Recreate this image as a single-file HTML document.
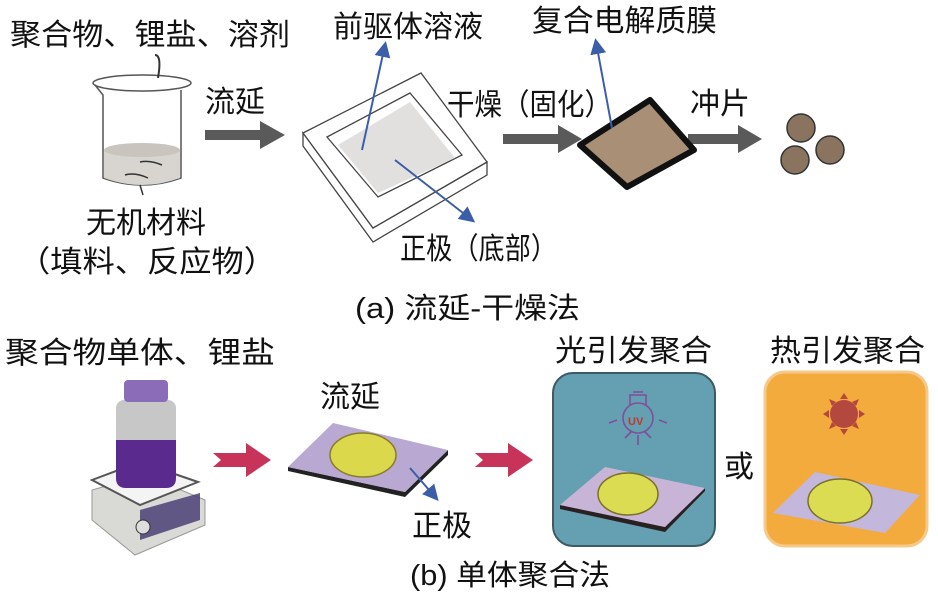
<!DOCTYPE html>
<html><head><meta charset="utf-8"><style>
html,body{margin:0;padding:0;background:#fff;}
svg text{font-family:"Liberation Sans","Noto Sans CJK SC",sans-serif;fill:#111;}
</style></head><body>
<svg width="938" height="593" viewBox="0 0 938 593" xmlns="http://www.w3.org/2000/svg">
<defs>
<marker id="ab" markerWidth="8" markerHeight="8" refX="6" refY="4" orient="auto"><path d="M0,0 L8,4 L0,8 z" fill="#3b5ea8"/></marker>
</defs>
<!-- texts top -->
<text x="10" y="45" font-size="30" textLength="280" lengthAdjust="spacingAndGlyphs">聚合物、锂盐、溶剂</text>
<text x="333" y="37" font-size="30" textLength="150" lengthAdjust="spacingAndGlyphs">前驱体溶液</text>
<text x="532" y="31" font-size="30" textLength="185" lengthAdjust="spacingAndGlyphs">复合电解质膜</text>
<text x="205" y="112" font-size="30" textLength="60" lengthAdjust="spacingAndGlyphs">流延</text>
<text x="447" y="115" font-size="30" textLength="165" lengthAdjust="spacingAndGlyphs">干燥（固化）</text>
<text x="690" y="114" font-size="30" textLength="60" lengthAdjust="spacingAndGlyphs">冲片</text>
<text x="86" y="233" font-size="30" textLength="120" lengthAdjust="spacingAndGlyphs">无机材料</text>
<text x="18" y="272" font-size="30" textLength="258" lengthAdjust="spacingAndGlyphs">（填料、反应物）</text>
<text x="400" y="259" font-size="30" textLength="157" lengthAdjust="spacingAndGlyphs">正极（底部）</text>
<text x="355" y="318" font-size="29" textLength="225" lengthAdjust="spacingAndGlyphs">(a) 流延-干燥法</text>
<!-- beaker -->
<g fill="none" stroke="#555" stroke-width="1.5">
<ellipse cx="142" cy="83" rx="49" ry="8"/>
<path d="M95,85 L103,95 L103,178 Q142,192 181,178 L181,90"/>
</g>
<path d="M104,150 Q142,138 180,150 L180,178 Q142,192 104,178 z" fill="#d8d5d0"/>
<ellipse cx="142" cy="150" rx="38" ry="7" fill="#c9c4be"/>
<path d="M158,78 Q162,55 155,55" stroke="#333" stroke-width="2" fill="none"/>
<path d="M140,162 Q150,160 162,165 M125,175 Q135,172 148,178 M140,185 L143,195" stroke="#333" stroke-width="1.5" fill="none"/>
<!-- gray arrows -->
<g fill="#5a5a5a">
<path d="M205,130 h55 v-9 l25,14 l-25,14 v-9 h-55z"/>
<path d="M503,134 h55 v-9 l24,14 l-24,14 v-9 h-55z"/>
<path d="M688,134 h50 v-9 l24,14 l-24,14 v-9 h-50z"/>
</g>
<!-- tray -->
<g stroke="#444" stroke-width="1.3" fill="#fff">
<path d="M303,133 L303,146 L373,242 L487,175 L487,162 L373,228 z"/>
<path d="M303,133 L421,73 L487,162 L373,228 z"/>
</g>
<path d="M327,137 L410,93 L462,155 L378,197 z" fill="#fff" stroke="#444" stroke-width="1.3"/>
<path d="M338,145 L410,102 L455,158 L378,193 z" fill="#e2e0de"/>
<line x1="362" y1="150" x2="385" y2="45" stroke="#3b5ea8" stroke-width="2" marker-end="url(#ab)"/>
<line x1="395" y1="160" x2="472" y2="220" stroke="#3b5ea8" stroke-width="2" marker-end="url(#ab)"/>
<!-- film -->
<path d="M580,145 L650,100 L694,150 L627,187 z" fill="#a88f76" stroke="#111" stroke-width="6" stroke-linejoin="round"/>
<line x1="612" y1="128" x2="596" y2="42" stroke="#3b5ea8" stroke-width="2" marker-end="url(#ab)"/>
<!-- discs -->
<g fill="#8a7460" stroke="#333" stroke-width="1.5">
<circle cx="801" cy="128" r="14"/><circle cx="830" cy="150" r="14"/><circle cx="795" cy="160" r="14"/>
</g>
<!-- bottom texts -->
<text x="5" y="363" font-size="30" textLength="270" lengthAdjust="spacingAndGlyphs">聚合物单体、锂盐</text>
<text x="320" y="407" font-size="30" textLength="60" lengthAdjust="spacingAndGlyphs">流延</text>
<text x="555" y="361" font-size="30" textLength="157" lengthAdjust="spacingAndGlyphs">光引发聚合</text>
<text x="770" y="361" font-size="30" textLength="155" lengthAdjust="spacingAndGlyphs">热引发聚合</text>
<text x="724" y="477" font-size="30">或</text>
<text x="412" y="536" font-size="30" textLength="60" lengthAdjust="spacingAndGlyphs">正极</text>
<text x="410" y="585" font-size="29" textLength="200" lengthAdjust="spacingAndGlyphs">(b) 单体聚合法</text>
<!-- stirrer + bottle -->
<path d="M92,490 L145,475 L205,500 L205,525 L135,555 L92,520 z" fill="#d9d9d6" stroke="#999"/>
<path d="M92,480 L140,462 L198,482 L140,505 z" fill="#f4f4f4" stroke="#555" stroke-width="2"/>
<path d="M140,510 L200,493 L200,520 L140,540 z" fill="#4a3f75" opacity="0.85"/>
<circle cx="143" cy="527" r="7" fill="#ddd" stroke="#333"/>
<rect x="116" y="400" width="60" height="85" rx="8" fill="#c7c7c8"/>
<path d="M116,440 h60 v38 q0,10 -10,10 h-40 q-10,0 -10,-10z" fill="#5b2a8f"/>
<rect x="124" y="380" width="44" height="22" rx="4" fill="#8b6cb8"/>
<!-- pink arrows -->
<g fill="#c8335a">
<path d="M213,453 h33 v-10 l25,17 l-25,17 v-10 h-33 l8,-7z"/>
<path d="M475,453 h33 v-10 l25,17 l-25,17 v-10 h-33 l8,-7z"/>
</g>
<!-- plate 1 -->
<path d="M288,467 L288,471 L405,497 L448,455 L448,450 L405,492 z" fill="#222"/>
<path d="M288,467 L333,423 L448,450 L405,492 z" fill="#b8a8d2"/>
<ellipse cx="363" cy="455" rx="33" ry="22" fill="#dcd84c" stroke="#8a7c2a" stroke-width="1.5"/>
<line x1="410" y1="468" x2="436" y2="498" stroke="#3b5ea8" stroke-width="2" marker-end="url(#ab)"/>
<!-- UV box -->
<rect x="553" y="373" width="162" height="173" rx="20" fill="#659fb2" stroke="#3e5a66" stroke-width="2"/>
<g stroke="#7f4f9a" stroke-width="1.6" fill="none">
<circle cx="638" cy="418" r="15"/>
<path d="M630,405 v-10 h16 v10 M633,392 h10 M632,431 l-7,7 M644,431 l7,7 M617,420 l-8,3 M659,420 l8,3 M638,435 v10"/>
</g>
<text x="628" y="425" font-size="11" font-weight="bold" style="fill:#c0392b">UV</text>
<path d="M560,505 L560,509 L665,532 L705,491 L705,488 L665,527 z" fill="#2a2020"/>
<path d="M560,505 L605,467 L705,488 L665,527 z" fill="#c8b4d6"/>
<ellipse cx="628" cy="494" rx="30" ry="21" fill="#dcdc52" stroke="#7a7028" stroke-width="1.5"/>
<!-- heat box -->
<rect x="765" y="372" width="162" height="174" rx="20" fill="#f2ab3c" stroke="#f6c98a" stroke-width="3"/>
<circle cx="844" cy="414" r="14" fill="#b5483e"/>
<g fill="#b5483e">
<path d="M844,393 l-4,6 h8z M844,435 l-4,-6 h8z M823,414 l6,-4 v8z M865,414 l-6,-4 v8z M829,399 l7,3 l-4,4z M859,399 l-7,3 l4,4z M829,429 l7,-3 l-4,-4z M859,429 l-7,-3 l4,-4z"/>
</g>
<path d="M773,513 L815,472 L920,495 L885,533 z" fill="#c3b7dc"/>
<ellipse cx="840" cy="501" rx="32" ry="22" fill="#dcdc52" stroke="#7a7028" stroke-width="1.5"/>
</svg>
</body></html>
